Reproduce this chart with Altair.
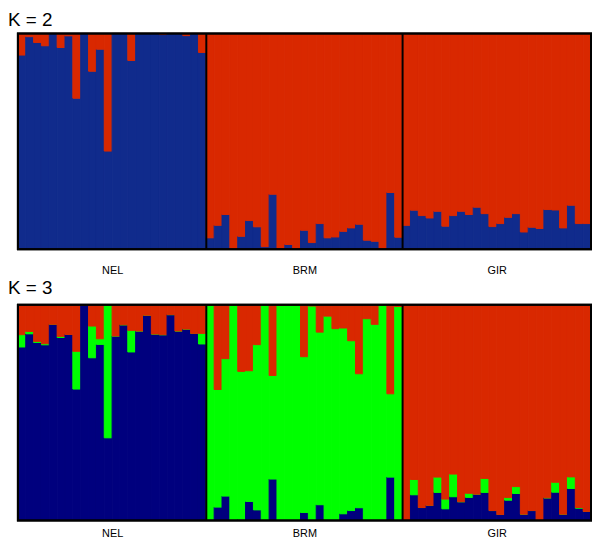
import altair as alt
import pandas as pd

pops = ["NEL", "BRM", "GIR"]
n_per_pop = [24, 25, 24]

# K = 2 : minority-cluster proportions
k2_nel_red = [0.10, 0.015, 0.042, 0.057, 0.0, 0.065, 0.011, 0.30, 0.0, 0.175, 0.073, 0.545,
              0.0, 0.0, 0.125, 0.0, 0.0, 0.0, 0.005, 0.0, 0.0, 0.01, 0.0, 0.088]
k2_brm_blue = [0.053, 0.111, 0.161, 0.0, 0.06, 0.133, 0.104, 0.012, 0.255, 0.006, 0.022, 0.0,
               0.088, 0.031, 0.119, 0.053, 0.057, 0.083, 0.099, 0.116, 0.042, 0.037, 0.003, 0.263, 0.056]
k2_gir_blue = [0.111, 0.181, 0.156, 0.145, 0.176, 0.107, 0.156, 0.176, 0.161, 0.195, 0.165, 0.105,
               0.119, 0.148, 0.165, 0.080, 0.102, 0.096, 0.184, 0.182, 0.099, 0.204, 0.119, 0.119]

# K = 3
k3_nel_red = [0.139, 0.124, 0.170, 0.181, 0.091, 0.147, 0.138, 0.216, 0.0, 0.099, 0.158, 0.0,
              0.145, 0.093, 0.119, 0.122, 0.049, 0.136, 0.139, 0.046, 0.122, 0.113, 0.133, 0.133]
k3_nel_green = [0.057, 0.011, 0.005, 0.005, 0.0, 0.005, 0.0, 0.175, 0.0, 0.147, 0.026, 0.617,
                0.0, 0.0, 0.100, 0.0, 0.0, 0.0, 0.0, 0.0, 0.0, 0.0, 0.0, 0.049]
k3_brm_red = [0.0, 0.393, 0.250, 0.0, 0.309, 0.306, 0.185, 0.0, 0.328, 0.003, 0.0, 0.0,
              0.241, 0.006, 0.127, 0.053, 0.111, 0.108, 0.167, 0.320, 0.065, 0.091, 0.0, 0.413, 0.008]
k3_brm_blue = [0.0, 0.062, 0.113, 0.0, 0.005, 0.088, 0.049, 0.0, 0.192, 0.0, 0.0, 0.0,
               0.037, 0.0, 0.073, 0.003, 0.0, 0.031, 0.046, 0.059, 0.0, 0.0, 0.0, 0.201, 0.0]
k3_gir_blue = [0.0, 0.119, 0.060, 0.070, 0.130, 0.054, 0.110, 0.087, 0.107, 0.122, 0.130, 0.046,
               0.028, 0.094, 0.125, 0.029, 0.046, 0.0, 0.105, 0.131, 0.029, 0.148, 0.057, 0.042]
k3_gir_green = [0.0, 0.071, 0.0, 0.0, 0.071, 0.045, 0.105, 0.0, 0.019, 0.0, 0.065, 0.0,
                0.0, 0.012, 0.032, 0.0, 0.0, 0.0, 0.0, 0.046, 0.0, 0.054, 0.003, 0.0]

RED = "#d92800"
BLUE2 = "#102b8c"
BLUE3 = "#00007e"
GREEN = "#00ff00"
FONT = "Liberation Sans"


def build_k2():
    rows = []
    i = 0
    for v in k2_nel_red:
        rows += [(i, "blue", 1 - v, 0), (i, "red", v, 1)]
        i += 1
    for v in k2_brm_blue + k2_gir_blue:
        rows += [(i, "blue", v, 0), (i, "red", 1 - v, 1)]
        i += 1
    return pd.DataFrame(rows, columns=["ind", "cluster", "q", "ord"])


def build_k3():
    rows = []
    i = 0
    for r, g in zip(k3_nel_red, k3_nel_green):
        rows += [(i, "blue", 1 - r - g, 0), (i, "green", g, 1), (i, "red", r, 2)]
        i += 1
    for r, b in zip(k3_brm_red, k3_brm_blue):
        rows += [(i, "blue", b, 0), (i, "green", 1 - r - b, 1), (i, "red", r, 2)]
        i += 1
    for b, g in zip(k3_gir_blue, k3_gir_green):
        rows += [(i, "blue", b, 0), (i, "green", g, 1), (i, "red", 1 - b - g, 2)]
        i += 1
    return pd.DataFrame(rows, columns=["ind", "cluster", "q", "ord"])


total = sum(n_per_pop)
bounds = []
acc = 0
centers = []
for n in n_per_pop:
    centers.append(acc + n / 2)
    acc += n
    bounds.append(acc)
sep_df = pd.DataFrame({"b": bounds[:-1]})
label_expr = " : ".join(
    [f"datum.value == {c} ? '{p}'" for c, p in zip(centers, pops)]) + " : ''"

W, H = 579, 218


def panel(df, domain, rng, title, lab_pad, toff):
    xs = alt.Scale(domain=[0, total], nice=False, zero=False)
    cs = alt.Scale(domain=domain, range=rng)
    bars = alt.Chart(df).transform_stack(
        stack="q", groupby=["ind"], as_=["y0", "y1"], sort=[alt.SortField("ord")]
    ).transform_calculate(ind2="datum.ind + 1").mark_rect(
        strokeWidth=1
    ).encode(
        x=alt.X("ind:Q", scale=xs,
                axis=alt.Axis(values=centers, labelExpr=label_expr, ticks=False, domain=False,
                              grid=False, title=None, labelFontSize=11, labelFont=FONT,
                              labelColor="black", labelPadding=lab_pad)),
        x2="ind2:Q",
        y=alt.Y("y0:Q", scale=alt.Scale(domain=[0, 1], nice=False), axis=None),
        y2="y1:Q",
        color=alt.Color("cluster:N", scale=cs, legend=None),
        stroke=alt.Stroke("cluster:N", scale=cs, legend=None),
    )
    seps = alt.Chart(sep_df).mark_rule(color="black", strokeWidth=2).encode(
        x=alt.X("b:Q", scale=xs)
    )
    frame = alt.Chart(sep_df).mark_rect(
        fillOpacity=0, stroke="black", strokeWidth=2
    ).encode(x=alt.value(0), x2=alt.value(W), y=alt.value(0), y2=alt.value(H))
    return alt.layer(bars, seps, frame).properties(
        width=W, height=H,
        title=alt.TitleParams(title, anchor="start", fontSize=19, font=FONT, fontWeight="normal",
                              dx=-9, offset=toff, color="black"),
    )


c1 = panel(build_k2(), ["blue", "red"], [BLUE2, RED], "K = 2", 15, 3)
c2 = panel(build_k3(), ["blue", "green", "red"], [BLUE3, GREEN, RED], "K = 3", 7, 6)

chart = alt.vconcat(c1, c2, spacing=4).resolve_scale(
    color="independent", stroke="independent"
).properties(padding=0).configure(
    background="white", view=alt.ViewConfig(stroke=None)
)

chart.save("out.html", embed_options={"renderer": "svg", "actions": False})
